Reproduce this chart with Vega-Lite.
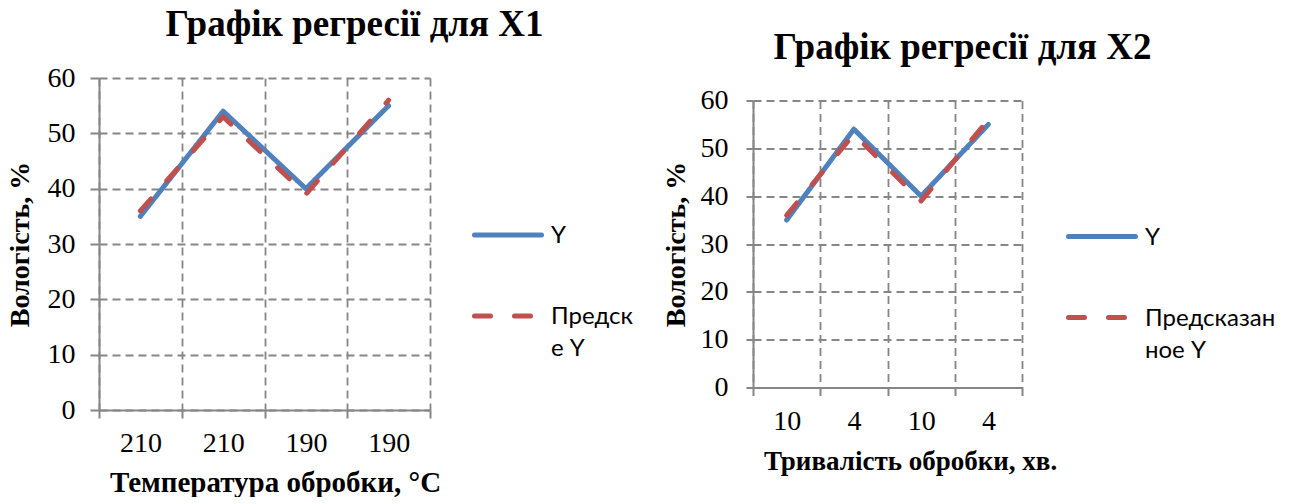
{
  "$schema": "https://vega.github.io/schema/vega-lite/v6.json",
  "background": "white",
  "padding": {"left": 6, "top": 6, "right": 0, "bottom": 0},
  "spacing": 29,
  "center": true,
  "hconcat": [
    {
      "width": 331,
      "height": 332,
      "title": {"text": "Графік регресії для X1", "dx": 90, "offset": 20},
      "data": {
        "values": [
          {"n": 1, "t": "210", "series": "Y", "value": 35},
          {"n": 2, "t": "210", "series": "Y", "value": 54},
          {"n": 3, "t": "190", "series": "Y", "value": 40},
          {"n": 4, "t": "190", "series": "Y", "value": 55},
          {"n": 1, "t": "210", "series": "Предсказанное Y", "value": 36},
          {"n": 2, "t": "210", "series": "Предсказанное Y", "value": 53},
          {"n": 3, "t": "190", "series": "Предсказанное Y", "value": 39},
          {"n": 4, "t": "190", "series": "Предсказанное Y", "value": 56}
        ]
      },
      "mark": {"type": "line", "strokeWidth": 5, "strokeCap": "round", "strokeJoin": "round"},
      "encoding": {
        "x": {
          "field": "n",
          "type": "ordinal",
          "bandPosition": 0.5,
          "scale": {"type": "band", "paddingInner": 0, "paddingOuter": 0},
          "axis": {
            "title": "Температура обробки, °C",
            "titleFontSize": 29,
            "labelExpr": "['210', '210', '190', '190'][datum.value - 1]",
            "labelAngle": 0,
            "labelBaseline": "top",
            "labelPadding": 11,
            "tickBand": "extent",
            "tickSize": 8,
            "titleX": 176,
            "titlePadding": 11
          }
        },
        "y": {
          "field": "value",
          "type": "quantitative",
          "scale": {"domain": [0, 60], "nice": false},
          "axis": {
            "title": "Вологість, %",
            "titleFontSize": 28,
            "values": [0, 10, 20, 30, 40, 50, 60],
            "tickSize": 9,
            "labelPadding": 15,
            "titlePadding": 13
          }
        },
        "color": {
          "field": "series",
          "type": "nominal",
          "sort": null,
          "scale": {"domain": ["Y", "Предсказанное Y"], "range": ["#4F81BD", "#C0504D"]},
          "legend": {
            "orient": "none",
            "legendX": 373,
            "legendY": 142,
            "labelExpr": "datum.value === 'Y' ? 'Y' : ['Предск', 'е Y']",
            "encode": {
              "labels": {"update": {"lineHeight": {"value": 32}, "dy": {"value": 8}}},
              "symbols": {"update": {"strokeCap": {"value": "round"}, "strokeDash": {"signal": "datum.value === 'Y' ? [1, 0] : [17, 23]"}}}
            }
          }
        },
        "strokeDash": {
          "field": "series",
          "type": "nominal",
          "sort": null,
          "scale": {"domain": ["Y", "Предсказанное Y"], "range": [[1, 0], [16, 24]]},
          "legend": {
            "orient": "none",
            "legendX": 373,
            "legendY": 142,
            "labelExpr": "datum.value === 'Y' ? 'Y' : ['Предск', 'е Y']",
            "encode": {
              "labels": {"update": {"lineHeight": {"value": 32}, "dy": {"value": 8}}},
              "symbols": {"update": {"strokeCap": {"value": "round"}, "strokeDash": {"signal": "datum.value === 'Y' ? [1, 0] : [17, 23]"}}}
            }
          }
        }
      }
    },
    {
      "width": 269,
      "height": 287,
      "title": {"text": "Графік регресії для X2", "dx": 75, "offset": 20},
      "data": {
        "values": [
          {"n": 1, "t": "10", "series": "Y", "value": 35},
          {"n": 2, "t": "4", "series": "Y", "value": 54},
          {"n": 3, "t": "10", "series": "Y", "value": 40},
          {"n": 4, "t": "4", "series": "Y", "value": 55},
          {"n": 1, "t": "10", "series": "Предсказанное Y", "value": 36},
          {"n": 2, "t": "4", "series": "Предсказанное Y", "value": 53},
          {"n": 3, "t": "10", "series": "Предсказанное Y", "value": 39},
          {"n": 4, "t": "4", "series": "Предсказанное Y", "value": 56}
        ]
      },
      "mark": {"type": "line", "strokeWidth": 5, "strokeCap": "round", "strokeJoin": "round"},
      "encoding": {
        "x": {
          "field": "n",
          "type": "ordinal",
          "bandPosition": 0.5,
          "scale": {"type": "band", "paddingInner": 0, "paddingOuter": 0},
          "axis": {
            "title": "Тривалість обробки, хв.",
            "labelExpr": "['10', '4', '10', '4'][datum.value - 1]",
            "labelAngle": 0,
            "labelBaseline": "top",
            "labelPadding": 12,
            "tickBand": "extent",
            "tickSize": 8,
            "titleX": 157,
            "titlePadding": 13
          }
        },
        "y": {
          "field": "value",
          "type": "quantitative",
          "scale": {"domain": [0, 60], "nice": false},
          "axis": {
            "title": "Вологість, %",
            "titleFontSize": 28,
            "values": [0, 10, 20, 30, 40, 50, 60],
            "tickSize": 7,
            "labelPadding": 18,
            "titlePadding": 10
          }
        },
        "color": {
          "field": "series",
          "type": "nominal",
          "sort": null,
          "scale": {"domain": ["Y", "Предсказанное Y"], "range": ["#4F81BD", "#C0504D"]},
          "legend": {
            "orient": "none",
            "legendX": 313,
            "legendY": 121,
            "labelExpr": "datum.value === 'Y' ? 'Y' : ['Предсказан', 'ное Y']",
            "encode": {
              "labels": {"update": {"lineHeight": {"value": 32}, "dy": {"value": 8}}},
              "symbols": {"update": {"strokeCap": {"value": "round"}, "strokeDash": {"signal": "datum.value === 'Y' ? [1, 0] : [17, 23]"}}}
            }
          }
        },
        "strokeDash": {
          "field": "series",
          "type": "nominal",
          "sort": null,
          "scale": {"domain": ["Y", "Предсказанное Y"], "range": [[1, 0], [16, 24]]},
          "legend": {
            "orient": "none",
            "legendX": 313,
            "legendY": 121,
            "labelExpr": "datum.value === 'Y' ? 'Y' : ['Предсказан', 'ное Y']",
            "encode": {
              "labels": {"update": {"lineHeight": {"value": 32}, "dy": {"value": 8}}},
              "symbols": {"update": {"strokeCap": {"value": "round"}, "strokeDash": {"signal": "datum.value === 'Y' ? [1, 0] : [17, 23]"}}}
            }
          }
        }
      }
    }
  ],
  "resolve": {"scale": {"color": "independent", "strokeDash": "independent", "x": "independent", "y": "independent"}, "legend": {"color": "independent", "strokeDash": "independent"}},
  "config": {
    "view": {"stroke": null},
    "font": "Liberation Serif",
    "title": {
      "font": "Liberation Serif",
      "fontSize": 37,
      "fontWeight": "bold",
      "color": "#000000",
      "anchor": "middle",
      "frame": "group",
      "baseline": "alphabetic"
    },
    "axis": {
      "domainColor": "#868686",
      "domainWidth": 2,
      "tickColor": "#868686",
      "tickWidth": 2,
      "grid": true,
      "gridColor": "#868686",
      "gridDash": [8, 5],
      "gridWidth": 1.8,
      "gridOpacity": 1,
      "labelFont": "Liberation Serif",
      "labelFontSize": 28,
      "labelColor": "#000000",
      "titleFont": "Liberation Serif",
      "titleFontSize": 27,
      "titleFontWeight": "bold",
      "titleColor": "#000000"
    },
    "legend": {
      "title": null,
      "padding": 0,
      "symbolType": "stroke",
      "symbolSize": 4489,
      "symbolStrokeWidth": 5,
      "symbolFillColor": "transparent",
      "clipHeight": 30,
      "rowPadding": 51,
      "labelFont": "Lato",
      "labelFontSize": 24,
      "labelColor": "#000000",
      "labelBaseline": "alphabetic",
      "labelOffset": 7,
      "labelLimit": 300
    }
  }
}
